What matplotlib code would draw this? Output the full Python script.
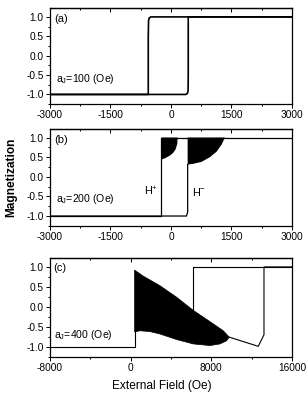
import matplotlib
matplotlib.use("Agg")
import matplotlib.pyplot as plt
from matplotlib.ticker import MultipleLocator

plt.rcParams['font.family'] = ['Liberation Sans', 'DejaVu Sans']
plt.rcParams['mathtext.fontset'] = 'custom'
plt.rcParams['mathtext.rm'] = 'Liberation Sans'
plt.rcParams['mathtext.it'] = 'Liberation Sans'
plt.rcParams['mathtext.default'] = 'regular'

# ---------------- data ----------------
# panel (a), aJ = 100 Oe
a_down_x = [3000, -500, -540, -555, -562, -562, -3000]
a_down_y = [1.0, 1.0, 0.97, 0.9, 0.5, -1.0, -1.0]
a_up_x = [-3000, 370, 410, 425, 429, 429, 3000]
a_up_y = [-1.0, -1.0, -0.97, -0.9, -0.5, 1.0, 1.0]

# panel (b), aJ = 200 Oe
b_up_x = [-3000, -240, -240, 3000]
b_up_y = [-1.0, -1.0, 1.0, 1.0]
b_down_x = [-3000, 385, 414, 414]
b_down_y = [-1.0, -1.0, -0.9, 0.31]
b_osc1_x = [-240, -149, -25, 57, 116, 157, 165]
b_osc1_lo = [0.44, 0.47, 0.54, 0.61, 0.70, 0.84, 1.0]
b_osc2_x = [414, 554, 760, 967, 1132, 1256, 1339]
b_osc2_lo = [0.31, 0.33, 0.38, 0.50, 0.64, 0.82, 1.0]

# panel (c), aJ = 400 Oe
c_left_x = [-8000, 400, 400]
c_left_y = [-1.0, -1.0, -0.63]
c_up_x = [400, 1253, 2909, 4566, 6218, 7868, 9190, 9783]
c_up_y = [0.92, 0.77, 0.53, 0.24, -0.09, -0.37, -0.60, -0.76]
c_lo_x = [400, 925, 1918, 2909, 4566, 6218, 7868, 8860, 9521, 9783]
c_lo_y = [-0.63, -0.60, -0.62, -0.68, -0.82, -0.93, -0.97, -0.93, -0.85, -0.76]
c_tail_x = [9783, 12658, 13224, 13224, 16000]
c_tail_y = [-0.76, -0.99, -0.70, 1.0, 1.0]
c_desc_x = [16000, 6218, 6218]
c_desc_y = [1.0, 1.0, -0.09]

yticks = [-1.0, -0.5, 0.0, 0.5, 1.0]
ytick_labels = ['-1.0', '-0.5', '0.0', '0.5', '1.0']
ab_xticks = [-3000, -1500, 0, 1500, 3000]
c_xticks = [-8000, 0, 8000, 16000]

# ---------------- figure ----------------
fig = plt.figure(figsize=(3.08, 3.99), dpi=100)
L, W = 0.162, 0.786
ax_a = fig.add_axes([L, 0.739, W, 0.240])
ax_b = fig.add_axes([L, 0.434, W, 0.243])
ax_c = fig.add_axes([L, 0.106, W, 0.247])

fs = 7.3

def style(ax, xticks, xlim, xminor):
    ax.set_xlim(*xlim)
    ax.set_ylim(-1.25, 1.22)
    ax.set_xticks(xticks)
    ax.set_xticklabels([str(t) for t in xticks], fontsize=fs)
    ax.set_yticks(yticks)
    ax.set_yticklabels(ytick_labels, fontsize=fs)
    ax.xaxis.set_minor_locator(MultipleLocator(xminor))
    ax.yaxis.set_minor_locator(MultipleLocator(0.25))
    ax.tick_params(axis='both', which='both', width=0.7, pad=1.5, direction='out')
    ax.tick_params(which='major', length=3)
    ax.tick_params(which='minor', length=1.5)
    ax.tick_params(axis='x', which='both', top=False, bottom=True)
    for s in ax.spines.values():
        s.set_linewidth(0.9)
    sec = ax.secondary_xaxis('top')
    sec.set_xticks(xticks)
    sec.set_xticklabels([])
    sec.xaxis.set_minor_locator(MultipleLocator(xminor))
    sec.tick_params(which='both', direction='in', width=0.7)
    sec.tick_params(which='major', length=3)
    sec.tick_params(which='minor', length=1.5)
    sec.spines['top'].set_linewidth(0.9)

# (a)
ax_a.plot(a_down_x, a_down_y, color='black', lw=1.2)
ax_a.plot(a_up_x, a_up_y, color='black', lw=1.2)
style(ax_a, ab_xticks, (-3000, 3000), 750)
ax_a.text(-2900, 0.88, '(a)', fontsize=8)
ax_a.text(-2850, -0.67, 'a$_J$=100 (Oe)', fontsize=7.6)

# (b)
ax_b.plot(b_up_x, b_up_y, color='black', lw=0.9)
ax_b.plot(b_down_x, b_down_y, color='black', lw=0.9)
ax_b.fill(b_osc1_x + [b_osc1_x[-1], b_osc1_x[0]],
          b_osc1_lo + [1.0, 1.0], color='black', lw=0)
ax_b.fill(b_osc2_x + [b_osc2_x[-1], b_osc2_x[0]],
          b_osc2_lo + [1.0, 1.0], color='black', lw=0)
style(ax_b, ab_xticks, (-3000, 3000), 750)
ax_b.text(-2900, 0.86, '(b)', fontsize=8)
ax_b.text(-2850, -0.64, 'a$_J$=200 (Oe)', fontsize=7.6)
ax_b.text(-330, -0.38, 'H$^{+}$', fontsize=7.8, ha='right', va='center')
ax_b.text(530, -0.38, 'H$^{-}$', fontsize=7.8, ha='left', va='center')

# (c)
ax_c.plot(c_left_x, c_left_y, color='black', lw=0.8)
ax_c.fill(c_up_x + c_lo_x[::-1], c_up_y + c_lo_y[::-1], color='black', lw=0.5)
ax_c.plot(c_tail_x, c_tail_y, color='black', lw=0.8)
ax_c.plot(c_desc_x, c_desc_y, color='black', lw=0.8)
style(ax_c, c_xticks, (-8000, 16000), 4000)
ax_c.text(-7700, 0.9, '(c)', fontsize=8)
ax_c.text(-7600, -0.77, 'a$_J$=400 (Oe)', fontsize=7.6)

fig.text(0.038, 0.556, 'Magnetization', rotation=90, ha='center', va='center',
         fontsize=8.6, fontweight='bold')
fig.text(0.526, 0.033, 'External Field (Oe)', ha='center', va='center', fontsize=8.6)

fig.savefig('out.png', dpi=100)
